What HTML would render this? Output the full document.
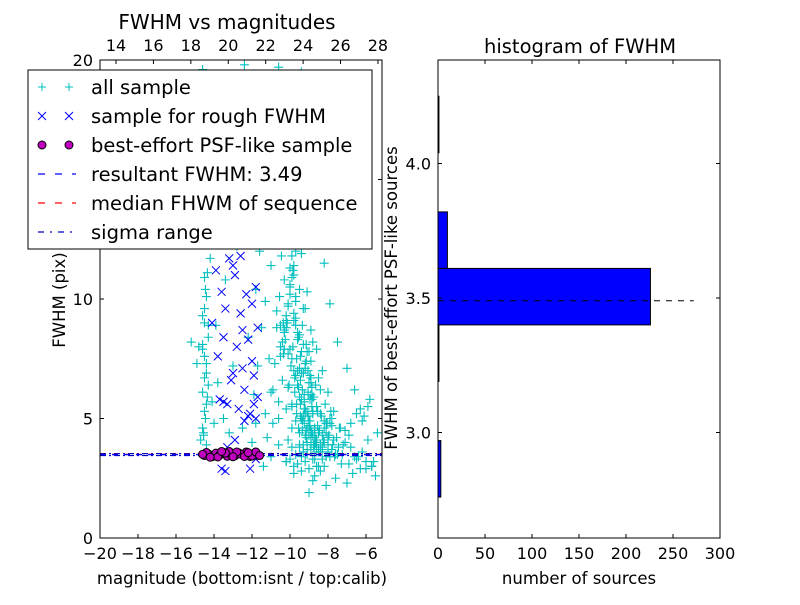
<!DOCTYPE html>
<html><head><meta charset="utf-8"><style>
body{margin:0;background:#fff}
svg{font-family:"DejaVu Sans","Liberation Sans",sans-serif}
</style></head><body>
<svg id="chart" width="800" height="600" viewBox="0 0 800 600">
<rect width="800" height="600" fill="#fff"/>
<g id="left"></g>
<g id="right"></g>
</svg>
<script>
// ---- scatter data (magnitude, FWHM) ----
const allMag=[-11.3,-11.0,-10.8,-10.5,-10.2,-10.0,-9.8,-9.6,-9.4,-9.9,-9.7,-9.5,-9.3,-9.1,-8.9,-8.7,-8.5,-8.3,-8.1,-7.9,-9.6,-9.4,-9.2,-9.0,-8.8,-8.6,-8.4,-8.2,-10.4,-10.6,-10.9,-11.2,-10.7,-10.3,-9.9,-9.5,-9.2,-8.9,-8.6,-8.3,-8.0,-7.7,-7.4,-7.1,-6.8,-6.5,-6.2,-5.9,-5.6,-5.4,-6.0,-6.7,-7.3,-7.6,-8.1,-8.8,-9.4,-9.8,-10.2,-10.6,-11.0,-11.4,
-10.5,-10.1,-9.7,-9.3,-10.8,-9.0,-10.4,-9.6,-8.7,-11.2,-8.5,-8.2,-7.9,-7.5,-7.0,-6.6,-6.3,-5.8,-11.6,-11.8,-11.5,-11.7,-11.9,
-14.7,-14.6,-14.5,-14.6,-14.4,-14.5,-14.3,-14.6,-14.4,-14.5,-14.2,-14.3,-14.8,-14.9,-15.2,-14.1,-13.8,-14.0,-14.4,-13.9,-14.1,-14.3,-13.8,-14.6,-13.5,-13.2,-13.0,-12.5,-12.0,-11.8,-12.2,-13.4,-12.8,
-10.1,-9.9,-9.7,-9.5,-9.3,-9.1,-8.9,-10.3,-10.0,-9.8,-9.6,-9.4,-9.2,-9.0,-8.8,-8.6,-10.2,-9.9,-9.5,-9.1,-8.7,-8.4,-8.0,-7.8,-9.3,-9.7,-10.1,-10.5,-8.5,-8.9,-9.3,-9.7,-10.0,-10.4,-10.8,-11.1,-7.5,-7.2,-6.9,-6.4,-5.7,-5.5,-6.1,-7.0,-8.2,-9.0,
-9.45,-9.35,-9.25,-9.15,-9.05,-8.95,-8.85,-8.75,-8.65,-8.55,-9.45,-9.35,-9.25,-9.15,-9.05,-8.95,-8.85,-8.75,-8.65,-8.55,-9.5,-9.4,-9.3,-9.2,-9.1,-9.0,-8.9,-8.8,-8.7,-8.6,-9.55,-9.45,-9.35,-9.25,-9.15,-9.05,-8.95,-8.85,-8.75,-8.65,
-10.05,-9.95,-9.85,-9.75,-9.65,-10.15,-10.25,-10.35,-9.9,-9.8,-9.7,-9.6,-10.0,-10.1,-10.2,-9.85,-9.75,-9.65,-9.55,-10.3,
-8.45,-8.35,-8.25,-8.15,-8.05,-7.95,-7.85,-7.75,-8.4,-8.3,-8.2,-8.1,-8.0,-7.9,-7.8,-7.65,-7.55,-7.45,-7.35,-7.25,
-9.2,-9.0,-8.8,-8.6,-8.4,-9.4,-9.6,-9.8,-10.0,-10.2,-9.1,-8.9,-8.7,-9.3,-9.5,-9.7,-9.9,-10.1,-8.5,-8.3,
-6.9,-6.6,-6.3,-6.0,-5.7,-7.1,-6.8,-6.5,-6.2,-5.9,-10.6,-10.9,-11.1,-10.7,-11.3,
-10.2,-9.8,-9.4,-9.0,-10.6,-9.2,-9.6,-8.6,-11.0,-12.4,-13.0,-9.5,-10.9,
-10.4,-10.2,-10.0,-9.8,-9.6,-10.5,-10.3,-10.1,-9.9,-9.7,-10.45,-10.25,-10.05,-9.85,-9.65,-10.35,-10.15,-9.95,-9.75,-10.55,
-9.4,-9.2,-9.0,-8.8,-9.5,-9.3,-9.1,-8.9,-9.45,-9.25,-9.05,-8.85,-9.35,-9.15,-8.95,-9.6,-9.55,-9.65,-9.7,-9.8,
-9.1,-8.9,-8.7,-8.5,-9.0,-8.8,-8.6,-8.4,-9.2,-8.3,-8.2,-8.1,-8.0,-7.9,-7.8,-7.7,-7.6,-8.7,-8.5,-8.9,
-14.55,-14.45,-14.35,-14.5,-14.4,-14.6,-14.3,-14.5,-14.45,-14.35,-14.55,-14.4,-14.3,-14.6,-14.5,
-10.0,-9.8,-10.3,-9.6,-10.6,-9.4,-10.2,-9.9,-10.8,-9.5,-10.4,-9.7,-11.0,-9.3,-10.1];
const allFwhm=[5.2,6.1,7.3,8.0,9.1,10.2,11.0,12.3,13.1,7.5,6.8,5.9,5.1,4.6,4.2,3.9,3.7,4.3,4.8,3.4,8.3,7.8,7.1,6.5,5.9,5.5,5.2,4.9,6.6,5.7,4.8,4.2,9.5,10.8,11.8,10.4,9.6,8.7,7.9,7.0,6.1,5.3,4.6,4.0,3.8,3.3,3.6,4.1,3.2,4.4,2.9,2.7,3.1,2.5,2.2,2.4,2.8,3.0,3.2,3.9,3.4,3.0,
12.8,13.6,14.5,15.2,15.8,16.4,17.2,18.3,17.7,14.1,13.0,11.5,9.8,8.2,7.1,6.2,5.4,5.8,12.0,10.4,8.8,7.2,6.0,
4.1,4.6,5.3,6.1,6.9,7.6,8.4,9.3,10.1,10.9,11.7,12.5,8.0,7.3,8.2,5.7,6.5,4.8,3.9,8.9,13.4,16.0,18.5,19.6,5.0,4.4,7.2,4.6,4.0,4.8,8.4,10.8,12.2,
6.3,5.6,4.9,4.4,3.9,5.3,6.0,8.6,7.9,7.0,6.4,5.8,5.2,4.7,4.3,4.0,5.4,4.6,3.8,3.5,4.5,3.9,4.2,5.0,6.9,9.2,7.7,8.9,6.7,7.4,8.1,9.9,11.3,12.9,14.8,16.7,3.5,3.9,4.3,3.4,3.0,2.6,5.1,2.3,3.0,1.9,
5.6,6.2,4.8,7.4,5.1,6.8,4.4,5.9,4.1,5.3,6.6,4.5,5.7,4.2,6.1,4.9,5.5,3.8,6.4,4.7,7.1,5.0,6.9,5.4,7.8,4.3,6.7,5.2,4.6,3.6,8.4,7.6,8.9,6.0,8.1,7.0,5.8,6.3,3.9,4.0,
6.4,7.2,8.0,6.7,7.5,9.0,8.3,7.7,5.5,9.4,10.1,8.6,10.6,9.7,8.8,11.2,6.1,5.2,4.6,7.9,
4.5,5.1,4.1,5.6,4.8,4.3,5.3,3.9,6.2,3.7,4.0,4.4,3.6,5.0,4.7,3.4,4.2,3.8,4.6,3.5,
3.2,2.9,3.3,3.0,2.8,3.4,3.1,2.7,3.3,3.2,4.0,3.7,2.6,3.6,3.9,3.5,3.8,4.1,3.0,3.3,
3.1,3.4,2.9,3.2,3.0,4.5,4.8,5.2,4.9,5.5,5.0,6.2,7.5,8.8,9.9,
19.2,18.8,19.5,17.9,19.7,16.8,19.0,18.9,18.6,19.8,19.3,15.4,16.9,
8.2,9.3,10.5,11.4,12.6,7.6,8.7,9.8,10.9,12.0,11.8,13.2,14.0,13.5,14.7,9.0,12.4,15.5,14.3,10.1,
6.9,7.3,7.8,8.2,8.5,9.6,10.3,6.5,5.1,5.4,6.0,5.8,4.9,4.5,4.7,7.0,6.3,5.6,8.9,9.1,
3.7,3.9,4.2,4.4,4.9,5.3,4.1,3.6,4.3,3.8,4.6,3.4,3.9,4.8,3.7,4.1,3.5,3.3,3.6,4.5,
4.4,5.0,5.9,6.7,7.3,8.1,8.9,9.6,10.4,11.1,4.3,5.6,6.4,7.9,9.0,
15.1,14.2,13.6,12.9,13.9,11.9,16.2,17.0,12.3,16.0,15.8,18.0,11.4,14.9,17.5];
const roughMag=[-13.2,-13.0,-12.9,-13.6,-13.4,-12.6,-12.3,-12.0,-11.8,-12.2,-12.8,-13.5,-13.8,-12.5,-12.0,-11.9,-13.1,-13.3,-12.7,-12.1,-11.9,-11.7,-12.4,-13.7,-12.9,-13.3,-13.6,-13.4,-12.1,-11.8,-14.1,-13.9,-12.6,-11.7,-12.4,-13.0,-12.2,-11.8,-13.5,-12.5];
const roughFwhm=[11.7,11.4,11.0,10.3,9.6,9.4,10.2,9.8,10.5,8.3,8.0,8.4,7.6,7.1,7.4,6.8,6.6,5.6,5.4,5.2,5.6,5.9,4.9,5.8,4.1,3.8,2.9,2.8,2.9,3.3,9.0,11.2,11.8,8.8,6.2,6.9,5.1,5.0,5.7,8.7];
const psfMag=[-14.5,-14.3,-14.1,-13.9,-13.7,-13.5,-13.3,-13.1,-12.9,-12.7,-12.5,-12.3,-12.1,-11.9,-11.7,-14.4,-13.8,-13.2,-12.6,-12.0,-13.4,-12.8,-14.2,-13.6,-13.0,-12.4,-11.8,-14.6,-12.2,-11.6];
const psfFwhm=[3.45,3.52,3.40,3.55,3.47,3.58,3.42,3.50,3.44,3.56,3.48,3.60,3.41,3.53,3.46,3.58,3.39,3.62,3.51,3.43,3.55,3.60,3.38,3.62,3.40,3.41,3.60,3.50,3.57,3.45];
const resultFwhm=3.49, medianFwhm=3.50, sigmaLow=3.45, sigmaHigh=3.53;
const xTicks=[-20,-18,-16,-14,-12,-10,-8,-6];
const topTicks=[14,16,18,20,22,24,26,28];
const yTicks=[0,5,10,15,20];
// ---- histogram data ----
const binEdges=[2.76,2.97,3.19,3.40,3.61,3.82,4.04,4.25];
const binCounts=[3,0,1,226,10,0,1];
const hxTicks=[0,50,100,150,200,250,300];
const hyTicks=[3.0,3.5,4.0];

const NS='http://www.w3.org/2000/svg';
function mk(p,t,a,txt){const e=document.createElementNS(NS,t);for(const k in a)e.setAttribute(k,a[k]);if(txt!==undefined)e.textContent=txt;p.appendChild(e);return e;}

// Left axes
const L={x0:100,x1:382,y0:538,y1:60};
const sx=m=>L.x0+(m+20)*19.0;
const sy=f=>L.y0-f*23.9;
const stx=m=>116+(m-14)*18.71;
const left=document.getElementById('left');
const cyan=mk(left,'g',{stroke:'#00bfbf','stroke-width':1.1,fill:'none'});


for(let i=0;i<allMag.length;i++){const x=sx(allMag[i]),y=sy(allFwhm[i]);if(x<L.x0||x>L.x1||y<L.y1)continue;
 const p=mk(cyan,'path',{d:`M${x-4.5},${y}H${x+4.5}M${x},${y-4.5}V${y+4.5}`});
 
 }
const blue=mk(left,'g',{stroke:'#0000ff','stroke-width':1,fill:'none'});


for(let i=0;i<roughMag.length;i++){const x=sx(roughMag[i]),y=sy(roughFwhm[i]);
 const p=mk(blue,'path',{d:`M${x-4},${y-4}L${x+4},${y+4}M${x-4},${y+4}L${x+4},${y-4}`});
 
 }
const hl=(f,col,dash,name)=>{const l=mk(left,'line',{x1:L.x0,x2:L.x1,y1:sy(f),y2:sy(f),stroke:col,'stroke-width':1.2,'stroke-dasharray':dash});
 
 };
hl(sigmaLow,'#0000bf','6,3,2,3','sigma-low-line');
hl(sigmaHigh,'#0000bf','6,3,2,3','sigma-high-line');
hl(medianFwhm,'#ff0000','6,6','median-line');
hl(resultFwhm,'#0000ff','6,6','resultant-line');
const psf=mk(left,'g',{stroke:'#000',fill:'#bf00bf','stroke-width':1});


for(let i=0;i<psfMag.length;i++){const c=mk(psf,'circle',{cx:sx(psfMag[i]),cy:sy(psfFwhm[i]),r:4});
 
 }
mk(left,'rect',{x:L.x0,y:L.y1,width:L.x1-L.x0,height:L.y0-L.y1,fill:'none',stroke:'#000'});
const tg=mk(left,'g',{stroke:'#000'});
xTicks.forEach(t=>{const x=sx(t);mk(tg,'line',{x1:x,x2:x,y1:L.y0,y2:L.y0-4});
 const tx=mk(left,'text',{x:x,y:559,'font-size':16,'text-anchor':'middle'},(t<0?'\u2212'+(-t):t));
 
 });
topTicks.forEach(t=>{const x=stx(t);mk(tg,'line',{x1:x,x2:x,y1:L.y1,y2:L.y1+4});
 const tx=mk(left,'text',{x:x,y:51,'font-size':16,'text-anchor':'middle'},t);
 
 });
yTicks.forEach(t=>{const y=sy(t);mk(tg,'line',{x1:L.x0,x2:L.x0+4,y1:y,y2:y});mk(tg,'line',{x1:L.x1,x2:L.x1-4,y1:y,y2:y});
 const tx=mk(left,'text',{x:93,y:y+6,'font-size':16,'text-anchor':'end'},t);
 
 });
let t=mk(left,'text',{x:227,y:29,'font-size':20,'text-anchor':'middle'},'FWHM vs magnitudes');

t=mk(left,'text',{x:242,y:584,'font-size':16.5,'text-anchor':'middle'},'magnitude (bottom:isnt / top:calib)');

t=mk(left,'text',{x:0,y:0,'font-size':16.5,'text-anchor':'middle',transform:'translate(65,300) rotate(-90)'},'FWHM (pix)');

// legend
const lg=mk(left,'g',{});

mk(lg,'rect',{x:28,y:70,width:344,height:179,fill:'#fff',stroke:'#000'});
const rows=[['all sample','plus'],['sample for rough FWHM','x'],['best-effort PSF-like sample','circ'],['resultant FWHM: 3.49','bdash'],['median FHWM of sequence','rdash'],['sigma range','dashdot']];
rows.forEach((r,i)=>{const y=87+i*29;
 if(r[1]=='plus'){[42,69].forEach(x=>mk(lg,'path',{d:`M${x-4},${y}H${x+4}M${x},${y-4}V${y+4}`,stroke:'#00bfbf'}));}
 if(r[1]=='x'){[42,69].forEach(x=>mk(lg,'path',{d:`M${x-4},${y-4}L${x+4},${y+4}M${x-4},${y+4}L${x+4},${y-4}`,stroke:'#0000ff'}));}
 if(r[1]=='circ'){[42,69].forEach(x=>mk(lg,'circle',{cx:x,cy:y,r:4,fill:'#bf00bf',stroke:'#000'}));}
 if(r[1]=='bdash')mk(lg,'line',{x1:38,x2:76,y1:y,y2:y,stroke:'#0000ff','stroke-dasharray':'7,10','stroke-width':1.3});
 if(r[1]=='rdash')mk(lg,'line',{x1:38,x2:76,y1:y,y2:y,stroke:'#ff0000','stroke-dasharray':'7,10','stroke-width':1.3});
 if(r[1]=='dashdot')mk(lg,'line',{x1:38,x2:76,y1:y,y2:y,stroke:'#0000bf','stroke-dasharray':'6,6,2,6','stroke-width':1.3});
 const e=mk(lg,'text',{x:91,y:y+7,'font-size':19.5},r[0]);
 
 });

// Right axes
const R={x0:438,x1:720,y0:538,y1:60};
const hx=c=>R.x0+c*(R.x1-R.x0)/300;
const hy=f=>298-(f-3.5)*269;
const right=document.getElementById('right');
binCounts.forEach((c,i)=>{if(!c)return;const y1=hy(binEdges[i+1]),y2=hy(binEdges[i]);
 const b=mk(right,'rect',{x:R.x0,y:y1,width:hx(c)-R.x0,height:y2-y1,fill:'#0000ff',stroke:'#000','stroke-width':1});
 
 });
const dl=mk(right,'line',{x1:R.x0,x2:hx(272),y1:hy(resultFwhm),y2:hy(resultFwhm),stroke:'#000','stroke-dasharray':'6,6'});

mk(right,'rect',{x:R.x0,y:R.y1,width:R.x1-R.x0,height:R.y0-R.y1,fill:'none',stroke:'#000'});
hxTicks.forEach(v=>{const x=hx(v);mk(right,'line',{x1:x,x2:x,y1:R.y0,y2:R.y0-4,stroke:'#000'});mk(right,'line',{x1:x,x2:x,y1:R.y1,y2:R.y1+4,stroke:'#000'});
 const e=mk(right,'text',{x:x,y:559,'font-size':16,'text-anchor':'middle'},v);
 });
hyTicks.forEach(v=>{const y=hy(v);mk(right,'line',{x1:R.x0,x2:R.x0+4,y1:y,y2:y,stroke:'#000'});mk(right,'line',{x1:R.x1,x2:R.x1-4,y1:y,y2:y,stroke:'#000'});
 const e=mk(right,'text',{x:431,y:y+6,'font-size':16,'text-anchor':'end'},v.toFixed(1));
 });
t=mk(right,'text',{x:580,y:53,'font-size':19.5,'text-anchor':'middle'},'histogram of FWHM');

t=mk(right,'text',{x:579,y:584,'font-size':16.5,'text-anchor':'middle'},'number of sources');

t=mk(right,'text',{x:0,y:0,'font-size':16.5,'text-anchor':'middle',transform:'translate(397,298) rotate(-90)'},'FWHM of best-effort PSF-like sources');

</script>
</body></html>
